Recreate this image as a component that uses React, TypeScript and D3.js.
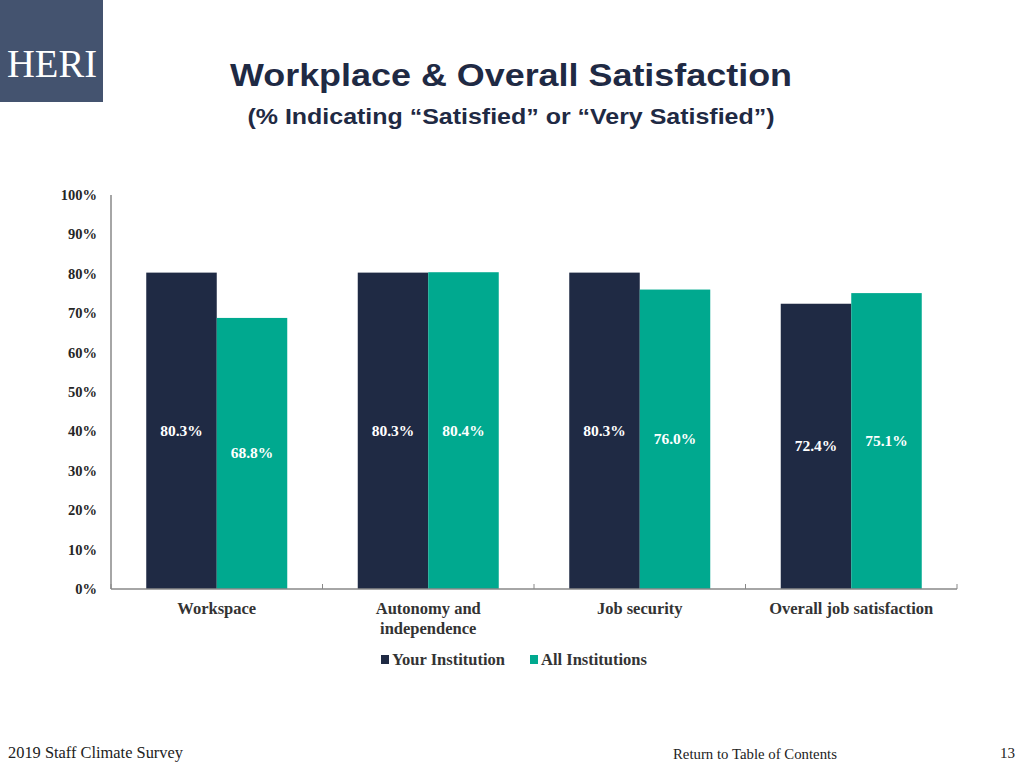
import React from "react";
import * as d3 from "d3";

const categories = ["Workspace", "Autonomy and\nindependence", "Job security", "Overall job satisfaction"];
const seriesNames = ["Your Institution", "All Institutions"];
const yourInstitution = [80.3, 80.3, 80.3, 72.4];
const allInstitutions = [68.8, 80.4, 76.0, 75.1];
const yTicks = [0, 10, 20, 30, 40, 50, 60, 70, 80, 90, 100];
const colors = ["#1f2a44", "#00a98f"];

const W = 1024, H = 768;
const left = 111, right = 957, top = 195, bottom = 589;

export default function App() {
  const x = d3.scaleBand<string>().domain(categories).range([left, right]).paddingInner(0).paddingOuter(0);
  const y = d3.scaleLinear().domain([0, 100]).range([bottom, top]);
  const bw = x.bandwidth();
  const barW = bw / 3;
  const series = [yourInstitution, allInstitutions];
  const serif = "'Liberation Serif', 'DejaVu Serif', serif";
  const sans = "'Liberation Sans', Arial, sans-serif";

  return (
    <svg width={W} height={H} style={{ position: "absolute", left: 0, top: 0, background: "#fff" }}>
      <rect x={0} y={0} width={103} height={102} fill="#44536f" />
      <text x={52} y={77} textAnchor="middle" fill="#fff" fontFamily={serif} fontSize={39} textLength={90} lengthAdjust="spacingAndGlyphs">HERI</text>

      <text x={511} y={86} textAnchor="middle" fill="#1f2a44" fontFamily={sans} fontWeight="bold" fontSize={31} textLength={562} lengthAdjust="spacingAndGlyphs">Workplace &amp; Overall Satisfaction</text>
      <text x={511} y={124} textAnchor="middle" fill="#1f2a44" fontFamily={sans} fontWeight="bold" fontSize={22} textLength={527} lengthAdjust="spacingAndGlyphs">(% Indicating “Satisfied” or “Very Satisfied”)</text>

      {yTicks.map((t) => (
        <text key={t} x={97} y={y(t) + 5} textAnchor="end" fontFamily={serif} fontWeight="bold" fontSize={14.5} fill="#262626">{t}%</text>
      ))}

      {categories.map((c, i) => (
        <g key={c}>
          {series.map((s, j) => {
            const bx = (x(c) as number) + bw / 6 + j * barW;
            const by = y(s[i]);
            return (
              <g key={j}>
                <rect x={bx} y={by} width={barW} height={bottom - by} fill={colors[j]} />
                <text x={bx + barW / 2} y={(by + bottom) / 2 + 5} textAnchor="middle" fill="#fff" fontFamily={serif} fontWeight="bold" fontSize={15.5}>{s[i].toFixed(1)}%</text>
              </g>
            );
          })}
          {c.split("\n").map((line, k) => (
            <text key={k} x={(x(c) as number) + bw / 2} y={614 + k * 20} textAnchor="middle" fontFamily={serif} fontWeight="bold" fontSize={16.5} fill="#333">{line}</text>
          ))}
        </g>
      ))}

      <line x1={left} y1={top} x2={left} y2={bottom} stroke="#888" strokeWidth={1.5} />
      <line x1={left} y1={bottom} x2={right} y2={bottom} stroke="#888" strokeWidth={1.5} />
      {[...categories.map((c) => x(c) as number), right].map((tx, i) => (
        <line key={i} x1={tx} y1={bottom - 5} x2={tx} y2={bottom} stroke="#888" strokeWidth={1} />
      ))}

      {seriesNames.map((n, j) => {
        const lx = j === 0 ? 381 : 530;
        return (
          <g key={n}>
            <rect x={lx} y={655} width={8} height={9} fill={colors[j]} />
            <text x={lx + 11} y={665} fontFamily={serif} fontWeight="bold" fontSize={16.5} fill="#333">{n}</text>
          </g>
        );
      })}

      <text x={8} y={758} fontFamily={serif} fontSize={16.4} fill="#222">2019 Staff Climate Survey</text>
      <text x={673} y={759} fontFamily={serif} fontSize={14.8} fill="#222">Return to Table of Contents</text>
      <text x={1015} y={758} textAnchor="end" fontFamily={serif} fontSize={15} fill="#222">13</text>
    </svg>
  );
}
